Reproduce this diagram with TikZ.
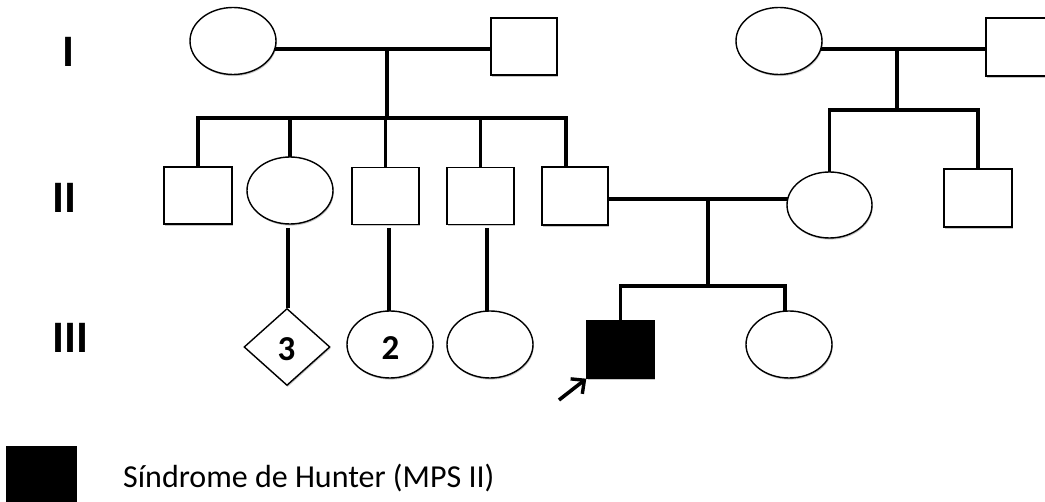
\documentclass[tikz,border=0pt]{standalone}
\usepackage{fontspec}
\setmainfont{Carlito}
\usetikzlibrary{shapes.geometric,backgrounds,shadows,arrows.meta}
\begin{document}
\begin{tikzpicture}[x=1pt,y=-1pt,
  person/.style={draw=black, line width=1.4pt, fill=white, inner sep=0pt,
    drop shadow={shadow xshift=0.8pt, shadow yshift=-1.6pt, opacity=0.22, fill=black}},
  sq/.style={person, rectangle, minimum width=67pt, minimum height=57pt},
  fem/.style={person, ellipse, minimum width=86pt, minimum height=67pt},
  dia/.style={person, diamond, minimum width=86pt, minimum height=77pt},
  aff/.style={fill=black},
  rel/.style={line width=3.2pt, line cap=rect},
  gen/.style={font=\fontsize{45}{45}\selectfont\bfseries},
  num/.style={font=\fontsize{35}{35}\selectfont\bfseries, inner sep=0pt},
  legtext/.style={font=\fontsize{32}{32}\selectfont, anchor=base west, inner sep=0pt}]
\clip (0,0) rectangle (1045,502);
% generation labels
\node[gen] (gI) at (68,52) {I};
\node[gen] (gII) at (64,198) {II};
\node[gen] (gIII) at (70,338) {III};
% generation I
\node[fem] (i1) at (233,41) {};
\node[sq, minimum width=66pt] (i2) at (524,46.5) {};
\node[fem] (i3) at (779,41) {};
\node[sq, minimum width=66pt, minimum height=58pt] (i4) at (1019,47) {};
% generation II
\node[sq, minimum width=68pt] (a1) at (198,195.5) {};
\node[fem] (a2) at (290,190.5) {};
\node[sq] (a3) at (385.5,196) {};
\node[sq] (a4) at (480.5,196) {};
\node[sq, minimum width=66pt, minimum height=58pt] (a5) at (575,196) {};
\node[fem, minimum width=85pt, minimum height=66pt] (a6) at (829.5,205) {};
\node[sq, minimum width=68pt, minimum height=58pt] (a7) at (978,198) {};
% generation III
\node[dia] (b1) at (287,347) {};
\node[fem] (b2) at (390,344.5) {};
\node[fem] (b3) at (490,344.5) {};
\node[sq, aff] (b4) at (620.5,349.5) {};
\node[fem] (b5) at (789,344.5) {};
\node[num] (n1) at (286.5,349.5) {3};
\node[num] (n2) at (390.5,348.5) {2};
% legend
\node[sq, aff, minimum width=69pt, minimum height=58pt] (leg) at (41.5,476) {};
\node[legtext] (legt) at (123,487.5) {Síndrome de Hunter (MPS II)};
% connector points
\coordinate (m1) at (387,49);
\coordinate (s1) at (387,118);
\coordinate (d5) at (566,118);
\coordinate (m2) at (897,49);
\coordinate (s2) at (897,110);
\coordinate (m3) at (708,199);
\coordinate (s3) at (708,286);
\coordinate (d9) at (785,286);
\coordinate (t1) at (288,228);
\coordinate (t2) at (389,228);
\coordinate (t3) at (487,228);
\coordinate (arr) at (559,400);
\begin{pgfonlayer}{background}
  \draw[rel] (i1.center |- m1) -- (i2.center |- m1);
  \draw[rel] (m1) -- (s1);
  \draw[rel] (s1 -| a1) -- (d5);
  \draw[rel] (s1 -| a1) -- (a1);
  \draw[rel] (s1 -| a2) -- (a2);
  \draw[rel] (s1 -| a3) -- (a3);
  \draw[rel] (s1 -| a4) -- (a4);
  \draw[rel] (d5) -- (d5 |- a5);
  \draw[rel] (i3.center |- m2) -- (i4.center |- m2);
  \draw[rel] (m2) -- (s2);
  \draw[rel] (s2 -| a6) -- (s2 -| a7);
  \draw[rel] (s2 -| a6) -- (a6);
  \draw[rel] (s2 -| a7) -- (a7);
  \draw[rel] (a5.center |- m3) -- (a6.center |- m3);
  \draw[rel] (m3) -- (s3);
  \draw[rel] (s3 -| b4) -- (d9);
  \draw[rel] (s3 -| b4) -- (b4);
  \draw[rel] (d9) -- (d9 |- b5);
  \draw[rel, line cap=butt] (t1) -- (t1 |- b1.north);
  \draw[rel, line cap=butt] (t2) -- (t2 |- b2);
  \draw[rel, line cap=butt] (t3) -- (t3 |- b3);
\end{pgfonlayer}
\draw[line width=3.6pt, -{Straight Barb[length=10pt,width=19pt,line width=3.4pt]}] (arr) -- (b4.south west);
\end{tikzpicture}
\end{document}
